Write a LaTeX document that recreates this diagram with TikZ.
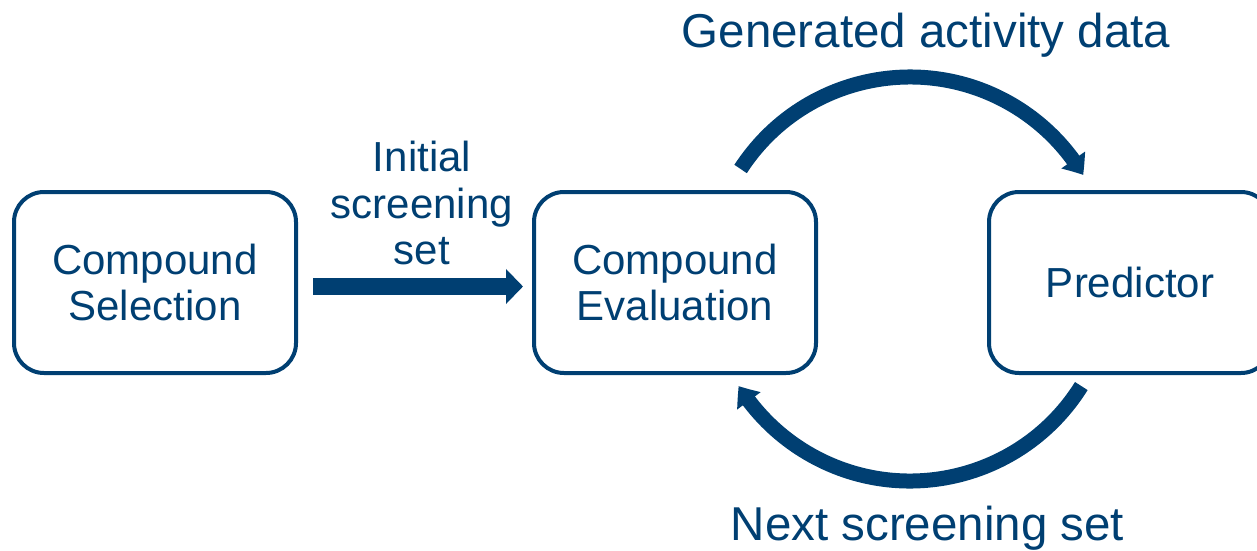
\documentclass[tikz,border=0pt]{standalone}
\usepackage{fontspec}
\setmainfont{Liberation Sans}
\usetikzlibrary{arrows.meta,bending,calc}
\definecolor{navy}{RGB}{0,63,114}
\tikzset{
  stage/.style={draw=navy, line width=4pt, rounded corners=30pt,
    minimum width=282pt, minimum height=181pt, text=navy, align=center,
    font=\fontsize{42}{46.5}\selectfont, inner sep=0pt},
  caption/.style={text=navy, align=center, inner sep=0pt},
  feed/.style={draw=navy, line width=17pt, -{Triangle[width=34pt,length=17pt]}},
  cycle/.style={draw=navy, line width=15pt, -{Triangle[width=28pt,length=18pt,bend]}},
}
\begin{document}
\begin{tikzpicture}[x=1pt,y=1pt]
\useasboundingbox (0,0) rectangle (1257,550);
\clip (0,0) rectangle (1257,550);

% the three stages
\node[stage] (sel)  at (155,267.5)  {Compound\\Selection};
\node[stage] (eval) at (675,267.5)  {Compound\\Evaluation};
\node[stage] (pred) at (1130,267.5) {Predictor};

% initial hand-off
\draw[feed] ([xshift=15pt,yshift=-4pt]sel.east) -- ([xshift=-9pt,yshift=-4pt]eval.west);
\node[caption, font=\fontsize{42}{46.5}\selectfont] (init) at (422,347) {Initial\\screening\\set};

% feedback loop between evaluation and predictor
\coordinate (hub) at (910,271);
\coordinate (up)   at ($(hub)+(147:202)$);
\coordinate (down) at ($(hub)+(-32:202)$);
\draw[cycle] (up) arc[start angle=147, end angle=31, radius=202pt];
\draw[cycle] (down) arc[start angle=-32, end angle=-148, radius=202pt];

\node[caption, font=\fontsize{47.5}{50}\selectfont, anchor=base] (gen) at (926,502) {Generated activity data};
\node[caption, font=\fontsize{47.5}{50}\selectfont, anchor=base] (next) at (927.5,9.5) {Next screening set};
\end{tikzpicture}
\end{document}
